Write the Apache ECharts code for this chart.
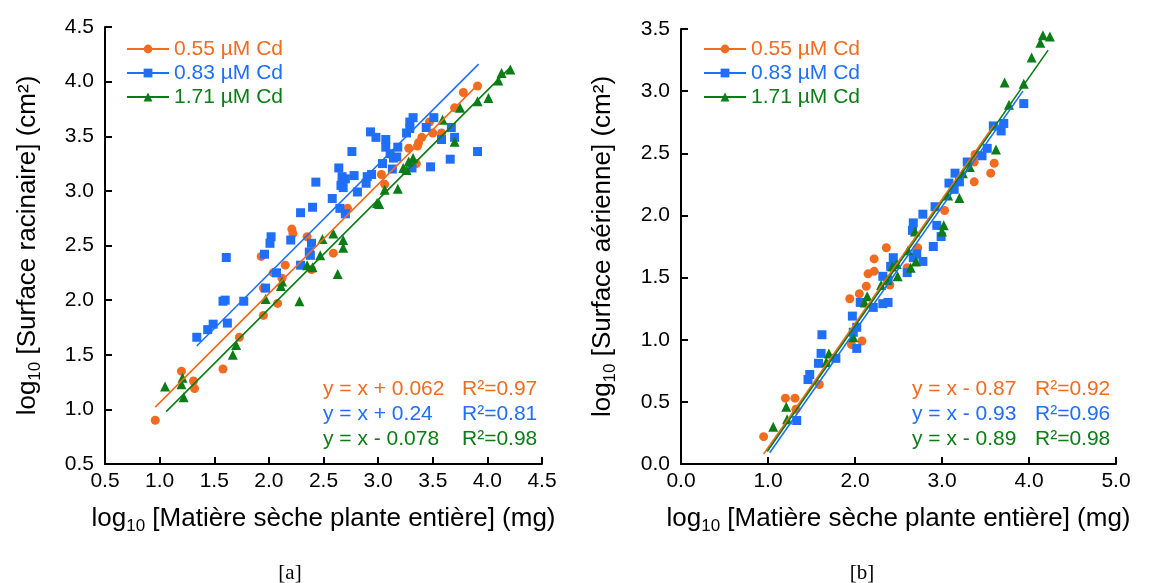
<!DOCTYPE html>
<html><head><meta charset="utf-8">
<script src="https://cdn.jsdelivr.net/npm/echarts@6/dist/echarts.min.js"></script>
<style>html,body{margin:0;padding:0;background:#fff}#c{width:1160px;height:583px}</style>
</head><body><div id="c"></div>
<script>
const seriesNames = ['0.55 µM Cd', '0.83 µM Cd', '1.71 µM Cd'];
const colors = ['#F26B1F', '#1F6FFA', '#0B7D16'];
const symbols = ['circle', 'rect', 'triangle'];

// tick values
const leftXTicks = [0.5, 1.0, 1.5, 2.0, 2.5, 3.0, 3.5, 4.0, 4.5];
const leftYTicks = [0.5, 1.0, 1.5, 2.0, 2.5, 3.0, 3.5, 4.0, 4.5];
const rightXTicks = [0, 1, 2, 3, 4, 5];
const rightYTicks = [0, 0.5, 1.0, 1.5, 2.0, 2.5, 3.0, 3.5];

// [a] root surface vs whole-plant dry matter
const rootOrange = [[0.96,0.90],[1.20,1.35],[1.31,1.26],[1.32,1.19],[1.58,1.37],[1.73,1.66],[1.95,1.86],[2.08,1.97],[1.95,2.11],[2.04,2.25],[2.12,2.20],[1.93,2.40],[2.15,2.32],[2.21,2.65],[2.22,2.61],[2.35,2.58],[2.39,2.28],[2.59,2.43],[2.72,2.84],[3.03,3.15],[3.06,3.06],[3.28,3.39],[3.35,3.25],[3.36,3.41],[3.37,3.44],[3.40,3.49],[3.47,3.63],[3.50,3.53],[3.58,3.53],[3.70,3.76],[3.78,3.90],[3.91,3.96]];
const rootBlue = [[1.34,1.66],[1.44,1.73],[1.49,1.78],[1.62,1.79],[1.58,1.99],[1.60,2.00],[1.77,1.99],[1.61,2.39],[1.97,2.11],[1.96,2.42],[2.02,2.58],[2.01,2.52],[2.07,2.25],[2.20,2.55],[2.29,2.32],[2.37,2.44],[2.38,2.41],[2.39,2.52],[2.29,2.80],[2.40,2.85],[2.43,3.08],[2.58,2.93],[2.65,2.84],[2.70,2.79],[2.66,3.05],[2.68,3.03],[2.64,3.21],[2.67,3.13],[2.70,3.11],[2.78,3.14],[2.81,2.99],[2.89,3.07],[2.90,3.13],[2.94,3.15],[2.76,3.36],[2.93,3.54],[2.98,3.49],[3.04,3.25],[3.11,3.34],[3.07,3.40],[3.07,3.47],[3.18,3.40],[3.14,3.30],[3.17,3.31],[3.13,3.20],[3.31,3.21],[3.26,3.53],[3.29,3.57],[3.29,3.63],[3.32,3.67],[3.44,3.58],[3.51,3.67],[3.67,3.58],[3.70,3.49],[3.58,3.47],[3.48,3.22],[3.66,3.29],[3.91,3.36]];
const rootGreen = [[1.05,1.21],[1.21,1.29],[1.20,1.23],[1.22,1.11],[1.67,1.50],[1.70,1.59],[1.97,2.01],[2.11,2.13],[2.12,2.17],[2.28,1.99],[2.35,2.32],[2.40,2.30],[2.47,2.41],[2.49,2.56],[2.59,2.61],[2.68,2.55],[2.68,2.48],[2.63,2.24],[2.99,2.89],[3.01,2.88],[3.06,3.01],[3.18,3.02],[3.23,3.21],[3.26,3.19],[3.28,3.27],[3.32,3.30],[3.59,3.65],[3.70,3.45],[3.75,3.76],[3.91,3.82],[4.01,3.85],[4.10,4.01],[4.13,4.08],[4.21,4.11]];
const rootFitOrange = [[0.96,1.02],[3.92,3.98]];
const rootFitBlue = [[1.34,1.58],[3.92,4.16]];
const rootFitGreen = [[1.06,0.98],[4.21,4.13]];
const rootEquations = ['y = x + 0.062', 'y = x + 0.24', 'y = x - 0.078'];
const rootR2 = ['R²=0.97', 'R²=0.81', 'R²=0.98'];

// [b] shoot surface vs whole-plant dry matter
const shootOrange = [[0.95,0.22],[1.20,0.53],[1.31,0.53],[1.32,0.44],[1.59,0.64],[1.96,0.96],[2.08,0.99],[1.94,1.33],[2.05,1.37],[2.13,1.43],[2.15,1.53],[2.22,1.55],[2.22,1.65],[2.36,1.74],[2.40,1.44],[2.60,1.58],[2.72,1.74],[3.03,2.04],[3.37,2.27],[3.37,2.43],[3.38,2.49],[3.56,2.34],[3.60,2.42]];
const shootBlue = [[1.33,0.35],[1.46,0.68],[1.48,0.72],[1.58,0.81],[1.61,0.89],[1.62,1.04],[1.78,0.85],[2.02,0.93],[1.97,1.19],[2.02,1.10],[1.98,1.06],[2.06,1.30],[2.21,1.26],[2.32,1.29],[2.38,1.30],[2.32,1.51],[2.38,1.48],[2.41,1.59],[2.44,1.66],[2.60,1.54],[2.67,1.66],[2.71,1.69],[2.78,1.63],[2.66,1.88],[2.67,1.94],[2.78,2.01],[2.90,1.75],[2.94,1.92],[2.99,1.83],[2.92,2.07],[3.08,2.26],[3.14,2.21],[3.20,2.27],[3.15,2.34],[3.29,2.43],[3.46,2.48],[3.52,2.54],[3.59,2.72],[3.68,2.68],[3.71,2.74],[3.94,2.90]];
const shootGreen = [[1.06,0.30],[1.21,0.46],[1.22,0.36],[1.67,0.82],[1.70,0.89],[1.98,1.02],[2.11,1.30],[2.14,1.35],[2.30,1.44],[2.37,1.48],[2.43,1.59],[2.48,1.61],[2.49,1.51],[2.61,1.72],[2.64,1.58],[2.70,1.63],[2.69,1.87],[3.00,1.87],[3.02,1.92],[3.07,2.16],[3.20,2.14],[3.24,2.34],[3.32,2.39],[3.62,2.53],[3.77,2.89],[3.72,3.07],[3.94,3.06],[4.03,3.27],[4.13,3.39],[4.16,3.45],[4.24,3.44]];
const shootFitOrange = [[0.95,0.08],[3.60,2.73]];
const shootFitBlue = [[1.02,0.09],[3.93,3.00]];
const shootFitGreen = [[0.99,0.10],[4.22,3.33]];
const shootEquations = ['y = x - 0.87', 'y = x - 0.93', 'y = x - 0.89'];
const shootR2 = ['R²=0.92', 'R²=0.96', 'R²=0.98'];

const FONT = '"Liberation Sans", Arial, sans-serif';
const chart = echarts.init(document.getElementById('c'), null, {renderer: 'canvas'});

function axisBase(ticks, extra) {
  return Object.assign({
    type: 'value',
    min: ticks[0],
    max: ticks[ticks.length - 1],
    interval: +(ticks[1] - ticks[0]).toFixed(3),
    splitLine: {show: false},
    axisLine: {show: true, onZero: false, lineStyle: {color: '#000', width: 2}},
    axisTick: {show: true, inside: true, length: 7, lineStyle: {color: '#000', width: 2}},
    nameLocation: 'middle',
    nameTextStyle: {
      color: '#000',
      rich: {
        n: {fontSize: 26, fontFamily: FONT, color: '#000'},
        s: {fontSize: 17, fontFamily: FONT, color: '#000', padding: [16, 0, 0, 0]}
      }
    }
  }, extra);
}
function lab(margin) {
  return {color: '#000', fontSize: 21, fontFamily: FONT, margin: margin, formatter: v => v.toFixed(1)};
}

const xName = '{n|log}{s|10}{n| [Matière sèche plante entière] (mg)}';

const fits = [[rootFitOrange, rootFitBlue, rootFitGreen], [shootFitOrange, shootFitBlue, shootFitGreen]];
const pts = [[rootOrange, rootBlue, rootGreen], [shootOrange, shootBlue, shootGreen]];
const series = [];
for (let g = 0; g < 2; g++) {
  for (let i = 0; i < 3; i++) {
    series.push({
      type: 'line', name: seriesNames[i], xAxisIndex: g, yAxisIndex: g,
      data: fits[g][i], symbol: symbols[i], symbolSize: 9, showSymbol: false,
      lineStyle: {color: colors[i], width: 1.6}, itemStyle: {color: colors[i]},
      z: 4, silent: true, animation: false
    });
  }
}
for (let g = 0; g < 2; g++) {
  for (let i = 0; i < 3; i++) {
    series.push({
      type: 'scatter', name: seriesNames[i], xAxisIndex: g, yAxisIndex: g,
      data: pts[g][i], symbol: symbols[i], symbolSize: i === 2 ? 10 : 9,
      itemStyle: {color: colors[i], opacity: 1}, z: 2 + i * 0.1, animation: false
    });
  }
}

function legendFor(left) {
  return {
    left: left, top: 37, padding: 0, orient: 'vertical', itemWidth: 42, itemHeight: 11, itemGap: 0,
    selectedMode: false,
    data: seriesNames.map((n, i) => ({name: n, textStyle: {color: colors[i]}})),
    textStyle: {fontSize: 21, fontFamily: FONT, lineHeight: 24}
  };
}

const graphic = [];
const eqs = [[rootEquations, rootR2, 323, 462, 389], [shootEquations, shootR2, 912, 1035, 389]];
eqs.forEach(([E, R, xe, xr, y0]) => {
  for (let i = 0; i < 3; i++) {
    const y = y0 + i * 25;
    graphic.push({type: 'text', x: xe, y: y, style: {text: E[i], fill: colors[i], fontSize: 21, fontFamily: FONT, verticalAlign: 'middle'}});
    graphic.push({type: 'text', x: xr, y: y, style: {text: R[i], fill: colors[i], fontSize: 21, fontFamily: FONT, verticalAlign: 'middle'}});
  }
});
graphic.push({type: 'text', x: 290, y: 573, style: {text: '[a]', fill: '#000', fontSize: 21, fontFamily: '"Liberation Serif", "Times New Roman", serif', align: 'center', verticalAlign: 'middle'}});
graphic.push({type: 'text', x: 862, y: 573, style: {text: '[b]', fill: '#000', fontSize: 21, fontFamily: '"Liberation Serif", "Times New Roman", serif', align: 'center', verticalAlign: 'middle'}});

chart.setOption({
  backgroundColor: '#fff',
  animation: false,
  grid: [
    {left: 105, top: 27, width: 437, height: 437},
    {left: 681, top: 29, width: 435, height: 435}
  ],
  xAxis: [
    axisBase(leftXTicks, {gridIndex: 0, name: xName, nameGap: 38, axisLabel: lab(7)}),
    axisBase(rightXTicks, {gridIndex: 1, name: xName, nameGap: 38, axisLabel: lab(7)})
  ],
  yAxis: [
    axisBase(leftYTicks, {gridIndex: 0, name: '{n|log}{s|10}{n| [Surface racinaire] (cm²)}', nameGap: 61, axisLabel: lab(11)}),
    axisBase(rightYTicks, {gridIndex: 1, name: '{n|log}{s|10}{n| [Surface aérienne] (cm²)}', nameGap: 62, axisLabel: lab(11)})
  ],
  legend: [legendFor(126), legendFor(703)],
  series: series,
  graphic: graphic
});
</script>
</body></html>
